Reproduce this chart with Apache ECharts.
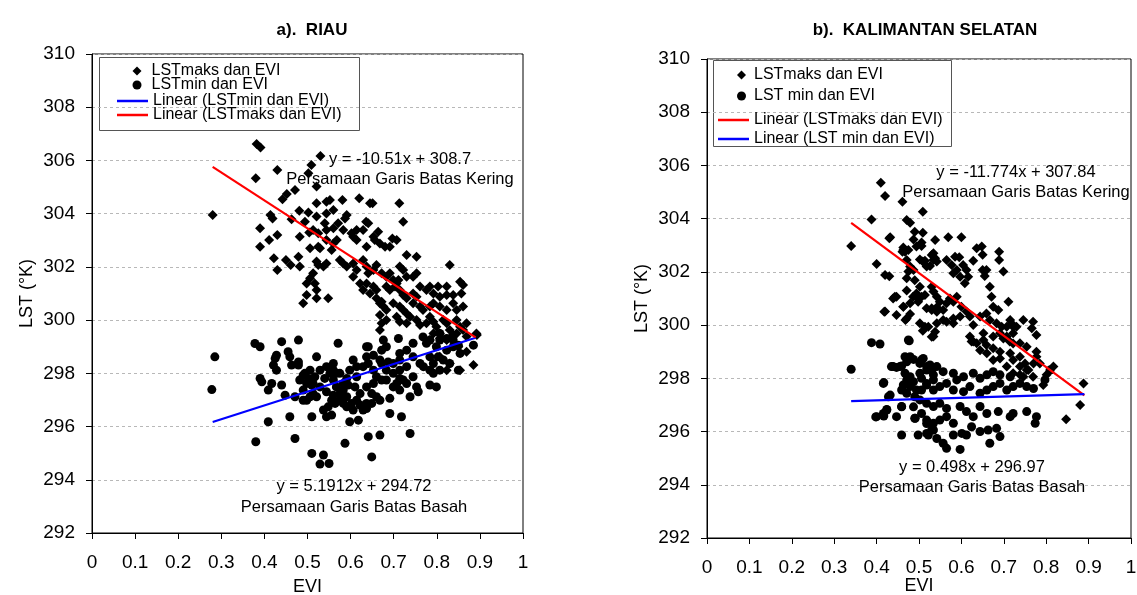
<!DOCTYPE html>
<html><head><meta charset="utf-8">
<script src="https://cdn.jsdelivr.net/npm/echarts@6/dist/echarts.min.js"></script>
<style>html,body{margin:0;padding:0;background:#fff}#c{width:1137px;height:595px}</style>
</head><body><div id="c"></div>
<script>
const FONT = "'Liberation Sans', Arial, sans-serif";
const panelTitles = ['a).  RIAU', 'b).  KALIMANTAN SELATAN'];
const xTicks = { min: 0, max: 1, interval: 0.1 };
const yTicks = { min: 292, max: 310, interval: 2 };

const riauMaks = [[0.382,306.62],[0.391,306.49],[0.280,303.95],[0.380,305.33],[0.430,305.64],[0.509,305.83],[0.530,306.17],[0.502,305.52],[0.521,305.02],[0.471,304.89],[0.452,304.74],[0.442,304.54],[0.414,303.95],[0.419,303.82],[0.390,303.45],[0.390,302.76],[0.411,303.01],[0.430,303.2],[0.422,302.32],[0.430,301.88],[0.450,302.26],[0.461,302.07],[0.482,302.01],[0.479,302.38],[0.482,303.13],[0.504,303.29],[0.494,303.7],[0.463,303.79],[0.481,304.11],[0.502,304.04],[0.521,304.39],[0.544,304.45],[0.552,304.51],[0.544,304.01],[0.560,304.14],[0.581,304.51],[0.620,304.58],[0.645,304.39],[0.651,304.39],[0.713,304.39],[0.591,303.95],[0.587,303.82],[0.636,303.7],[0.641,303.64],[0.614,303.39],[0.629,303.39],[0.571,303.64],[0.560,303.45],[0.540,303.64],[0.521,303.89],[0.513,303.39],[0.525,303.26],[0.544,303.39],[0.722,303.7],[0.664,303.32],[0.697,303.07],[0.707,303.01],[0.691,302.76],[0.544,303.01],[0.560,302.88],[0.568,303.01],[0.556,302.63],[0.583,303.39],[0.602,303.26],[0.606,303.13],[0.614,303.01],[0.653,303.13],[0.656,303.01],[0.668,302.88],[0.680,302.76],[0.637,302.76],[0.525,302.76],[0.529,302.7],[0.506,302.7],[0.521,302.2],[0.525,302.07],[0.537,302.01],[0.544,302.13],[0.513,301.76],[0.506,301.57],[0.498,301.38],[0.517,301.38],[0.521,301.13],[0.498,300.94],[0.490,300.63],[0.548,300.82],[0.521,300.82],[0.575,302.26],[0.583,302.13],[0.591,302.01],[0.606,302.13],[0.614,301.88],[0.606,301.63],[0.629,302.26],[0.637,302.01],[0.641,301.76],[0.653,301.88],[0.660,302.07],[0.672,301.76],[0.683,301.63],[0.691,301.76],[0.699,301.51],[0.730,302.45],[0.753,302.38],[0.714,302.01],[0.722,301.88],[0.730,301.63],[0.745,301.63],[0.753,301.76],[0.711,301.51],[0.707,301.38],[0.830,302.07],[0.622,301.38],[0.637,301.38],[0.653,301.26],[0.629,301.13],[0.645,301.0],[0.660,301.13],[0.660,300.82],[0.672,300.69],[0.683,301.26],[0.691,301.13],[0.703,301.26],[0.714,301.13],[0.722,300.94],[0.730,300.82],[0.745,301.0],[0.753,300.88],[0.761,301.26],[0.776,301.13],[0.784,301.26],[0.803,301.26],[0.823,301.26],[0.854,301.44],[0.861,301.32],[0.857,301.0],[0.792,301.0],[0.807,300.88],[0.823,300.94],[0.838,300.94],[0.668,300.63],[0.676,300.51],[0.683,300.38],[0.699,300.63],[0.714,300.51],[0.722,300.38],[0.730,300.25],[0.745,300.63],[0.761,300.51],[0.768,300.38],[0.784,300.51],[0.792,300.63],[0.807,300.51],[0.823,300.38],[0.838,300.63],[0.846,300.38],[0.861,300.51],[0.668,300.19],[0.683,300.0],[0.672,299.88],[0.707,300.13],[0.714,299.94],[0.730,299.88],[0.738,300.13],[0.753,300.0],[0.761,299.82],[0.776,299.88],[0.784,300.13],[0.792,299.94],[0.799,299.75],[0.815,300.0],[0.823,299.88],[0.830,299.63],[0.846,300.0],[0.854,299.75],[0.869,299.88],[0.861,299.63],[0.838,299.38],[0.846,299.5],[0.869,299.38],[0.892,299.5],[0.668,299.63],[0.792,299.5],[0.807,299.32],[0.893,299.44],[0.869,298.81],[0.885,298.31],[0.850,299.0],[0.823,299.25],[0.838,299.44],[0.807,299.5],[0.784,299.25],[0.854,298.12],[0.807,298.62],[0.830,298.37],[0.823,298.12]];

const riauMin = [[0.285,298.62],[0.278,297.39],[0.378,299.12],[0.390,299.0],[0.440,299.19],[0.479,299.25],[0.428,298.68],[0.425,298.56],[0.459,298.62],[0.455,298.81],[0.421,298.31],[0.428,298.12],[0.479,298.43],[0.479,298.31],[0.463,298.31],[0.521,298.62],[0.390,297.81],[0.394,297.68],[0.417,297.62],[0.409,297.37],[0.440,297.56],[0.448,297.18],[0.471,297.12],[0.490,296.99],[0.494,298.0],[0.506,298.12],[0.517,297.87],[0.513,297.62],[0.529,297.49],[0.540,297.81],[0.552,298.0],[0.560,298.37],[0.567,298.0],[0.544,297.31],[0.556,296.99],[0.564,296.87],[0.548,296.74],[0.537,296.62],[0.544,296.37],[0.556,296.43],[0.583,297.37],[0.591,297.12],[0.602,296.87],[0.614,296.99],[0.622,297.24],[0.637,296.87],[0.649,296.87],[0.649,297.24],[0.660,297.12],[0.668,296.99],[0.637,297.49],[0.653,297.62],[0.672,297.75],[0.583,297.62],[0.594,297.56],[0.610,297.49],[0.575,298.0],[0.591,297.81],[0.614,297.87],[0.614,298.25],[0.629,298.25],[0.641,298.37],[0.637,298.62],[0.653,298.68],[0.637,299.0],[0.672,298.87],[0.683,299.0],[0.676,299.25],[0.668,298.5],[0.687,298.43],[0.699,298.37],[0.714,298.12],[0.722,297.75],[0.714,297.37],[0.738,297.12],[0.757,297.31],[0.691,297.06],[0.718,296.37],[0.691,296.49],[0.745,297.87],[0.769,298.25],[0.784,298.12],[0.792,298.0],[0.799,297.49],[0.784,297.56],[0.714,298.75],[0.730,298.87],[0.745,298.62],[0.761,298.37],[0.768,299.37],[0.784,299.25],[0.807,299.5],[0.823,299.31],[0.799,299.0],[0.838,299.0],[0.850,299.06],[0.854,298.75],[0.823,298.87],[0.830,298.37],[0.850,298.12],[0.815,298.5],[0.803,298.62],[0.606,296.62],[0.618,296.24],[0.598,296.18],[0.641,295.62],[0.668,295.68],[0.649,294.86],[0.587,295.37],[0.510,296.37],[0.459,296.37],[0.409,296.18],[0.471,295.55],[0.380,295.43],[0.510,294.99],[0.537,294.93],[0.529,294.59],[0.550,294.61],[0.738,295.74],[0.571,299.13],[0.641,299.0],[0.711,299.31],[0.745,299.13],[0.776,299.13],[0.807,299.25],[0.838,299.25],[0.885,299.06],[0.490,297.93],[0.502,297.81],[0.482,297.75],[0.498,297.62],[0.510,297.56],[0.490,297.37],[0.513,297.24],[0.506,297.12],[0.521,297.12],[0.498,296.99],[0.560,297.75],[0.567,297.49],[0.575,297.24],[0.560,297.18],[0.575,296.99],[0.583,296.87],[0.591,296.74],[0.622,296.81],[0.629,296.62],[0.637,296.68],[0.672,298.37],[0.683,298.12],[0.699,298.0],[0.683,297.75],[0.707,297.62],[0.714,297.81],[0.529,298.12],[0.544,298.25],[0.598,298.12],[0.606,298.5],[0.653,298.12],[0.660,297.87],[0.699,297.49],[0.730,297.62],[0.753,297.49],[0.792,298.37],[0.807,298.12],[0.784,298.62],[0.714,298.5],[0.730,298.25],[0.560,298.12]];

const kalMaks = [[0.410,305.35],[0.420,304.85],[0.461,304.64],[0.509,304.26],[0.388,303.97],[0.340,302.97],[0.471,303.95],[0.479,303.85],[0.432,303.3],[0.490,303.51],[0.509,303.47],[0.487,303.22],[0.538,303.2],[0.463,302.92],[0.461,302.76],[0.468,302.8],[0.506,302.97],[0.502,302.47],[0.514,302.42],[0.530,302.63],[0.534,302.45],[0.526,302.22],[0.400,302.3],[0.420,301.88],[0.430,301.84],[0.471,302.45],[0.479,302.2],[0.487,302.07],[0.490,301.69],[0.471,301.3],[0.502,301.44],[0.506,301.07],[0.494,301.07],[0.514,301.13],[0.439,301.0],[0.447,301.07],[0.463,300.69],[0.479,300.82],[0.418,300.5],[0.447,300.38],[0.468,300.19],[0.479,300.42],[0.502,300.07],[0.514,299.94],[0.509,299.79],[0.530,299.56],[0.518,300.63],[0.530,300.57],[0.542,300.5],[0.430,303.26],[0.463,302.82],[0.467,302.76],[0.475,302.82],[0.494,302.95],[0.506,303.1],[0.569,303.3],[0.600,303.3],[0.636,302.89],[0.648,302.95],[0.650,302.64],[0.689,302.76],[0.689,302.45],[0.628,302.42],[0.585,302.57],[0.595,302.55],[0.509,302.39],[0.534,302.7],[0.538,302.51],[0.518,302.2],[0.542,302.39],[0.565,302.45],[0.577,302.26],[0.589,302.07],[0.581,301.95],[0.604,302.26],[0.612,302.07],[0.616,301.82],[0.597,301.82],[0.608,301.57],[0.650,302.07],[0.659,302.07],[0.655,301.85],[0.667,301.44],[0.671,301.07],[0.699,302.01],[0.711,300.88],[0.475,302.01],[0.471,301.76],[0.443,301.07],[0.420,300.51],[0.471,300.25],[0.463,300.69],[0.486,301.07],[0.494,301.19],[0.498,300.88],[0.530,301.44],[0.534,301.26],[0.542,301.07],[0.549,300.88],[0.530,300.63],[0.542,300.67],[0.557,300.57],[0.565,300.82],[0.573,301.0],[0.581,300.88],[0.589,301.07],[0.600,300.69],[0.612,300.51],[0.620,300.32],[0.597,300.32],[0.581,300.25],[0.565,300.13],[0.542,300.07],[0.522,299.94],[0.538,299.75],[0.534,299.57],[0.628,300.0],[0.644,300.32],[0.659,300.44],[0.675,300.69],[0.687,300.57],[0.667,300.19],[0.683,300.07],[0.695,299.94],[0.707,299.94],[0.718,300.07],[0.730,299.94],[0.722,299.69],[0.769,300.13],[0.777,299.63],[0.620,299.57],[0.628,299.38],[0.636,299.32],[0.652,299.44],[0.659,299.25],[0.691,299.69],[0.699,299.5],[0.707,299.57],[0.714,299.38],[0.738,299.32],[0.754,299.19],[0.557,300.19],[0.581,300.07],[0.652,299.69],[0.675,299.57],[0.624,299.38],[0.644,299.06],[0.660,298.94],[0.675,299.13],[0.691,299.0],[0.722,299.31],[0.675,298.69],[0.691,298.75],[0.715,298.94],[0.722,298.69],[0.738,298.81],[0.750,298.56],[0.738,298.44],[0.707,298.44],[0.722,298.19],[0.738,298.13],[0.754,298.31],[0.769,298.06],[0.777,299.0],[0.785,298.56],[0.817,298.44],[0.801,298.13],[0.793,297.75],[0.888,297.81],[0.880,297.0],[0.847,296.46],[0.746,300.19],[0.766,299.88],[0.722,299.94],[0.715,300.19],[0.746,298.06],[0.758,298.31],[0.770,298.56],[0.777,298.81]];

const kalMin = [[0.388,299.34],[0.408,299.29],[0.477,299.41],[0.340,298.34],[0.417,297.84],[0.435,298.44],[0.447,298.41],[0.459,298.46],[0.467,298.81],[0.471,298.62],[0.487,298.71],[0.506,298.69],[0.518,298.44],[0.530,298.31],[0.467,298.19],[0.471,297.94],[0.479,298.06],[0.487,297.87],[0.506,298.0],[0.518,297.81],[0.534,297.94],[0.459,297.56],[0.471,297.44],[0.490,297.31],[0.506,297.56],[0.428,297.31],[0.459,296.93],[0.424,296.83],[0.417,296.58],[0.398,296.55],[0.447,296.56],[0.487,296.93],[0.490,296.5],[0.506,296.68],[0.518,296.3],[0.530,296.06],[0.459,295.87],[0.498,295.87],[0.518,295.93],[0.475,299.44],[0.479,298.81],[0.502,298.56],[0.510,298.75],[0.526,298.5],[0.542,298.44],[0.439,298.44],[0.455,298.44],[0.502,298.19],[0.518,298.31],[0.534,298.13],[0.557,298.25],[0.581,298.19],[0.589,297.94],[0.605,298.06],[0.628,298.19],[0.644,298.0],[0.660,298.13],[0.675,298.25],[0.691,298.13],[0.715,298.06],[0.416,297.81],[0.432,297.37],[0.463,297.75],[0.479,297.69],[0.494,297.56],[0.518,297.75],[0.534,297.56],[0.549,297.69],[0.565,297.81],[0.581,297.56],[0.605,297.5],[0.620,297.69],[0.644,297.44],[0.660,297.56],[0.675,297.69],[0.691,297.81],[0.707,297.56],[0.722,297.69],[0.738,297.81],[0.754,297.69],[0.770,297.62],[0.809,298.31],[0.797,297.94],[0.400,296.56],[0.416,296.68],[0.424,296.81],[0.459,296.94],[0.491,296.5],[0.502,297.19],[0.518,297.06],[0.534,296.94],[0.549,297.06],[0.565,296.87],[0.518,296.43],[0.534,296.31],[0.549,296.43],[0.565,296.56],[0.581,296.31],[0.597,296.94],[0.612,296.75],[0.628,296.56],[0.644,296.94],[0.660,296.68],[0.687,296.75],[0.715,296.56],[0.722,296.68],[0.754,296.75],[0.777,296.56],[0.774,296.31],[0.534,296.06],[0.522,295.87],[0.542,295.74],[0.557,295.56],[0.565,295.37],[0.581,295.87],[0.601,295.93],[0.612,295.87],[0.624,296.18],[0.644,296.0],[0.663,296.06],[0.683,296.12],[0.691,295.81],[0.667,295.56],[0.597,295.33]];

// regression lines (end points as shown)
const riauMaksFit = [[0.28,305.76],[0.89,299.35]];
const riauMinFit = [[0.28,296.17],[0.89,299.34]];
const kalMaksFit = [[0.34,303.84],[0.89,297.36]];
const kalMinFit = [[0.34,297.14],[0.89,297.41]];

const eqTexts = [
  ['y = -10.51x + 308.7', 'Persamaan Garis Batas Kering'],
  ['y = 5.1912x + 294.72', 'Persamaan Garis Batas Basah'],
  ['y = -11.774x + 307.84', 'Persamaan Garis Batas Kering'],
  ['y = 0.498x + 296.97', 'Persamaan Garis Batas Basah']
];

const grids = [
  { left: 92, top: 54, width: 431, height: 479 },
  { left: 707, top: 59, width: 424, height: 479 }
];

function xAxis(i) {
  return {
    gridIndex: i, type: 'value', min: xTicks.min, max: xTicks.max, interval: xTicks.interval,
    name: 'EVI', nameLocation: 'middle', nameGap: i === 0 ? 45 : 39, nameMoveOverlap: false,
    nameTextStyle: { fontFamily: FONT, fontSize: 18, color: '#000' },
    axisLine: { show: true, onZero: false, lineStyle: { color: '#000', width: 1 } },
    axisTick: { show: true, inside: false, length: 6, lineStyle: { color: '#000' } },
    axisLabel: { fontFamily: FONT, fontSize: 19, color: '#000', margin: 20 },
    splitLine: { show: false }
  };
}
function yAxis(i) {
  return {
    gridIndex: i, type: 'value', min: yTicks.min, max: yTicks.max, interval: yTicks.interval,
    name: 'LST (°K)', nameLocation: 'middle', nameGap: 56, nameRotate: 90,
    nameTextStyle: { fontFamily: FONT, fontSize: 18, color: '#000' },
    axisLine: { show: true, onZero: false, lineStyle: { color: '#000', width: 1 } },
    axisTick: { show: true, inside: false, length: 6, lineStyle: { color: '#000' } },
    axisLabel: { fontFamily: FONT, fontSize: 19, color: '#000', margin: 17 },
    splitLine: { show: true, lineStyle: { color: '#b8b8b8', type: [3, 3], width: 1 } }
  };
}
function scatter(name, data, sym, i) {
  return { name, type: 'scatter', xAxisIndex: i, yAxisIndex: i, data, symbol: sym,
    symbolSize: sym === 'diamond' ? 10 : 9, itemStyle: { color: '#000', opacity: 1 }, silent: true, z: 3 };
}
function fit(name, data, color, i) {
  return { name, type: 'line', xAxisIndex: i, yAxisIndex: i, data, symbol: 'none', showSymbol: false,
    lineStyle: { color, width: 2.2 }, itemStyle: { color }, z: 4, silent: true };
}
const legText = { fontFamily: FONT, fontSize: 16, color: '#000', lineHeight: 14 };
const legText2 = { fontFamily: FONT, fontSize: 16, color: '#000', lineHeight: 16 };

function eq(cx, cy, t) {
  return { type: 'text', style: { text: t, x: cx, y: cy, align: 'center', verticalAlign: 'middle',
    font: '16.5px ' + FONT, fill: '#000' }, z: 10 };
}

const chart = echarts.init(document.getElementById('c'), null, { renderer: 'canvas' });
chart.setOption({
  backgroundColor: '#fff',
  animation: false,
  title: [
    { text: panelTitles[0], left: 307, top: 17, textAlign: 'center',
      textStyle: { fontFamily: FONT, fontSize: 17, fontWeight: 'bold', color: '#000' } },
    { text: panelTitles[1], left: 920, top: 17, textAlign: 'center',
      textStyle: { fontFamily: FONT, fontSize: 17, fontWeight: 'bold', color: '#000' } }
  ],
  grid: grids.map(g => Object.assign({ show: true, borderColor: '#000', borderWidth: 1, backgroundColor: 'transparent',
    containLabel: false, outerBoundsMode: 'none' }, g)),
  xAxis: [xAxis(0), xAxis(1)],
  yAxis: [yAxis(0), yAxis(1)],
  legend: [
    { orient: 'vertical', left: 127.5, top: 58, itemWidth: 9, itemHeight: 9, itemGap: -2,
      selectedMode: false, textStyle: Object.assign({ padding: [0, 0, 0, 5] }, legText),
      data: [{ name: 'LSTmaks dan EVI', icon: 'diamond' }, { name: 'LSTmin dan EVI', icon: 'circle' }] },
    { orient: 'vertical', left: 112, top: 88, itemWidth: 31, itemHeight: 2.5, itemGap: -2,
      selectedMode: false, textStyle: legText,
      data: [{ name: 'Linear (LSTmin dan EVI)', icon: 'rect' }, { name: 'Linear (LSTmaks dan EVI)', icon: 'rect' }] },
    { orient: 'vertical', left: 732, top: 62, itemWidth: 9, itemHeight: 9, itemGap: 5,
      selectedMode: false, textStyle: Object.assign({ padding: [0, 0, 0, 3] }, legText2),
      data: [{ name: 'LSTmaks dan EVI', icon: 'diamond' }, { name: 'LST min dan EVI', icon: 'circle' }] },
    { orient: 'vertical', left: 713, top: 107, itemWidth: 31, itemHeight: 2.5, itemGap: 3,
      selectedMode: false, textStyle: legText2,
      data: [{ name: 'Linear (LSTmaks dan EVI)', icon: 'rect' }, { name: 'Linear (LST min dan EVI)', icon: 'rect' }] }
  ],
  graphic: [
    { type: 'rect', shape: { x: 99.5, y: 57.5, width: 260, height: 73 }, style: { fill: 'none', stroke: '#555', lineWidth: 1 }, z: 0, silent: true },
    { type: 'rect', shape: { x: 713.5, y: 60.5, width: 238, height: 86 }, style: { fill: 'none', stroke: '#555', lineWidth: 1 }, z: 0, silent: true },
    eq(400, 159, eqTexts[0][0]), eq(400, 179, eqTexts[0][1]),
    eq(354, 486, eqTexts[1][0]), eq(354, 507, eqTexts[1][1]),
    eq(1016, 172, eqTexts[2][0]), eq(1016, 192, eqTexts[2][1]),
    eq(972, 467, eqTexts[3][0]), eq(972, 487, eqTexts[3][1])
  ],
  series: [
    scatter('LSTmaks dan EVI', riauMaks, 'diamond', 0),
    scatter('LSTmin dan EVI', riauMin, 'circle', 0),
    fit('Linear (LSTmin dan EVI)', riauMinFit, '#0000ff', 0),
    fit('Linear (LSTmaks dan EVI)', riauMaksFit, '#ff0000', 0),
    scatter('LSTmaks dan EVI', kalMaks, 'diamond', 1),
    scatter('LST min dan EVI', kalMin, 'circle', 1),
    fit('Linear (LSTmaks dan EVI)', kalMaksFit, '#ff0000', 1),
    fit('Linear (LST min dan EVI)', kalMinFit, '#0000ff', 1)
  ]
});
</script></body></html>
